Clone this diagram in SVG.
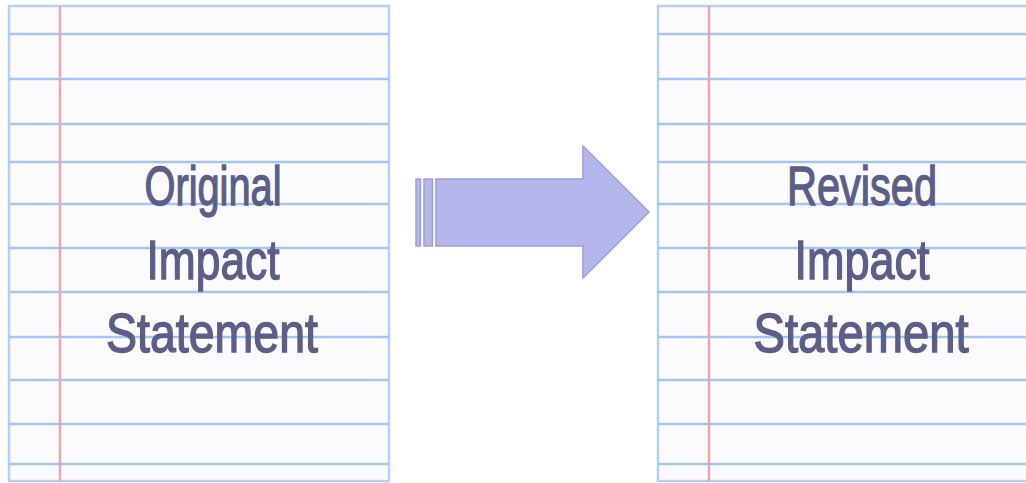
<svg xmlns="http://www.w3.org/2000/svg" width="1026" height="483" viewBox="0 0 1026 483">
  <defs>
    <style>
      .page { fill: #fbfbfe; stroke: #b4d0f8; stroke-width: 2.5; }
      .rule { stroke: #a3c5f3; stroke-width: 2.5; }
      .margin { stroke: #f0a3a9; stroke-width: 2.5; }
      .label { font-family: "Liberation Sans Narrow", "Liberation Sans", "DejaVu Sans Condensed", sans-serif; font-size: 55px; fill: #5b5e87; stroke: #5b5e87; stroke-width: 1.4; text-anchor: middle; }
      .arrow { fill: #b3b7ec; stroke: #9a9fdb; stroke-width: 1.5; stroke-linejoin: miter; }
    </style>
    <g id="rules">
      <line class="rule" x1="0" y1="34" x2="380" y2="34"/>
      <line class="rule" x1="0" y1="79" x2="380" y2="79"/>
      <line class="rule" x1="0" y1="124" x2="380" y2="124"/>
      <line class="rule" x1="0" y1="162" x2="380" y2="162"/>
      <line class="rule" x1="0" y1="204" x2="380" y2="204"/>
      <line class="rule" x1="0" y1="248" x2="380" y2="248"/>
      <line class="rule" x1="0" y1="292" x2="380" y2="292"/>
      <line class="rule" x1="0" y1="337" x2="380" y2="337"/>
      <line class="rule" x1="0" y1="380" x2="380" y2="380"/>
      <line class="rule" x1="0" y1="424" x2="380" y2="424"/>
      <line class="rule" x1="0" y1="464" x2="380" y2="464"/>
      <line class="margin" x1="51" y1="6" x2="51" y2="481"/>
    </g>
  </defs>

  <g id="original">
    <rect class="page" x="9" y="6" width="380" height="475"/>
    <use href="#rules" x="9"/>
    <text class="label" x="213" y="205" textLength="137" lengthAdjust="spacingAndGlyphs">Original</text>
    <text class="label" x="213" y="279" textLength="133" lengthAdjust="spacingAndGlyphs">Impact</text>
    <text class="label" x="212" y="352" textLength="212" lengthAdjust="spacingAndGlyphs">Statement</text>
  </g>

  <g id="revised">
    <rect class="page" x="658" y="6" width="390" height="475"/>
    <use href="#rules" x="658"/>
    <text class="label" x="862" y="205" textLength="150" lengthAdjust="spacingAndGlyphs">Revised</text>
    <text class="label" x="862" y="279" textLength="135" lengthAdjust="spacingAndGlyphs">Impact</text>
    <text class="label" x="861" y="352" textLength="215" lengthAdjust="spacingAndGlyphs">Statement</text>
  </g>

  <g id="connectors">
    <rect class="arrow" x="416" y="179" width="4.5" height="67"/>
    <rect class="arrow" x="424" y="179" width="8.5" height="67"/>
    <polygon class="arrow" points="436,179 583,179 583,146 649,212 583,278 583,246 436,246"/>
  </g>
</svg>
